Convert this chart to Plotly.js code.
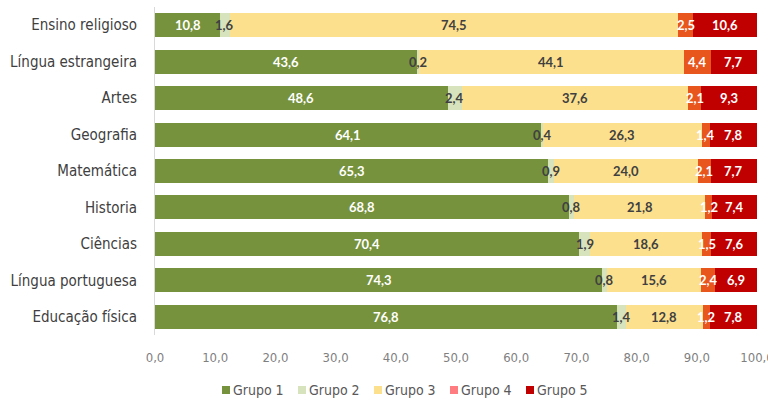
<!DOCTYPE html>
<html><head><meta charset="utf-8">
<script src="https://cdn.plot.ly/plotly-3.0.1.min.js"></script>
<style>body{margin:0;background:#fff}#chart{width:768px;height:414px}</style>
</head><body><div id="chart"></div>
<script>
const categories = ["Ensino religioso","Língua estrangeira","Artes","Geografia","Matemática","Historia","Ciências","Língua portuguesa","Educação física"];
const grupo1 = [10.8,43.6,48.6,64.1,65.3,68.8,70.4,74.3,76.8];
const grupo2 = [1.6,0.2,2.4,0.4,0.9,0.8,1.9,0.8,1.4];
const grupo3 = [74.5,44.1,37.6,26.3,24.0,21.8,18.6,15.6,12.8];
const grupo4 = [2.5,4.4,2.1,1.4,2.1,1.2,1.5,2.4,1.2];
const grupo5 = [10.6,7.7,9.3,7.8,7.7,7.4,7.6,6.9,7.8];
const seriesNames = ["Grupo 1","Grupo 2","Grupo 3","Grupo 4","Grupo 5"];
const tickVals = [0,10,20,30,40,50,60,70,80,90,100];
const tickText = ["0,0","10,0","20,0","30,0","40,0","50,0","60,0","70,0","80,0","90,0","100,0"];

const series = [grupo1,grupo2,grupo3,grupo4,grupo5];
const barColors = ["#76923C","#D6E3BC","#FDE08E","#E8561E","#C00000"];
const legendColors = ["#76923C","#D6E3BC","#FDE08E","#FF7C80","#C00000"];
const textColors = ["#ffffff","#404040","#404040","#ffffff","#ffffff"];
const fmt = v => v.toFixed(1).replace('.', ',');
const narrow = '"Liberation Sans Narrow", "DejaVu Sans Condensed", "Roboto", sans-serif';

const W = 768, H = 414, M = {l:155, r:11, t:7, b:79};
const plotW = W - M.l - M.r, plotH = H - M.t - M.b;
const px2paperX = px => (px - M.l) / plotW;
const px2paperY = py => (H - M.b - py) / plotH;

const traces = [];
const annotations = [];
const shapes = [];
const cum = categories.map(()=>0);
series.forEach((s,i)=>{
  traces.push({
    type:'bar', orientation:'h', name:seriesNames[i], x:s, y:categories,
    marker:{color:barColors[i], line:{width:0}},
    showlegend:false, hoverinfo:'x+name'
  });
  s.forEach((v,j)=>{
    annotations.push({x:cum[j]+v/2, y:categories[j], xref:'x', yref:'y', text:fmt(v), showarrow:false,
      font:{family:'Lato, "Open Sans", sans-serif', size:13, color:textColors[i], weight:'bold'}});
    cum[j]+=v;
  });
});

// legend drawn manually (Excel-like compact spacing)
const legStart = 222, legStep = 76, legY = 390, sq = 8;
seriesNames.forEach((n,i)=>{
  const x0 = legStart + legStep*i;
  shapes.push({type:'rect', xref:'paper', yref:'paper',
    x0:px2paperX(x0), x1:px2paperX(x0+sq), y0:px2paperY(legY+sq/2), y1:px2paperY(legY-sq/2),
    fillcolor:legendColors[i], line:{width:0}});
  annotations.push({xref:'paper', yref:'paper', x:px2paperX(x0+sq+1), y:px2paperY(legY),
    xanchor:'left', yanchor:'middle', text:n, showarrow:false,
    font:{family:narrow, size:14, color:'#595959'}});
});

const layout = {
  width:W, height:H,
  margin:{l:M.l, r:M.r, t:M.t, b:M.b, autoexpand:false},
  barmode:'stack', bargap:0.34,
  paper_bgcolor:'#fff', plot_bgcolor:'#fff',
  font:{family:narrow, color:'#404040'},
  annotations:annotations, shapes:shapes,
  xaxis:{range:[0,100], tickvals:tickVals, ticktext:tickText, showgrid:false, zeroline:false,
    showline:false, ticks:'', ticklabelstandoff:13, ticklabeloverflow:'allow',
    tickfont:{size:13, color:'#7f7f7f'}, fixedrange:true, automargin:false},
  yaxis:{type:'category', autorange:'reversed', showline:true, linecolor:'#d9d9d9', linewidth:1,
    ticks:'', ticklabelstandoff:14, tickfont:{size:15, color:'#404040'}, showgrid:false, automargin:false},
  showlegend:false
};
Plotly.newPlot('chart', traces, layout, {displayModeBar:false, staticPlot:true});
</script></body></html>
